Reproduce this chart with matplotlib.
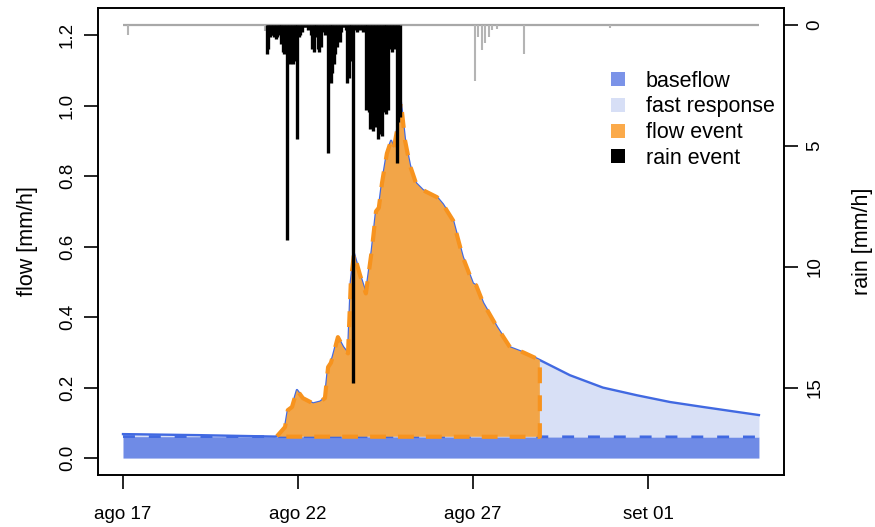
import numpy as np
import matplotlib
matplotlib.use("Agg")
import matplotlib.pyplot as plt
from matplotlib.lines import Line2D

plt.rcParams['font.family'] = ['Liberation Sans', 'DejaVu Sans']
plt.rcParams['font.size'] = 13.5

# time axis in days since ago 17 00:00
flow_days = [0.0, 2.2, 4.34, 4.40, 4.63, 4.71, 4.83, 4.97, 5.14, 5.43, 5.63, 5.77,
             5.86, 5.94, 6.00, 6.14, 6.29, 6.43, 6.51, 6.60, 6.77, 6.94, 7.11, 7.23,
             7.31, 7.40, 7.54, 7.66, 7.74, 7.83, 7.94, 8.06, 8.20, 8.37, 8.57, 8.97,
             9.14, 9.43, 9.71, 10.00, 10.09, 10.29, 10.69, 11.06, 11.43, 11.91, 12.77,
             13.71, 14.69, 15.63, 16.57, 17.54, 18.17]
flow_mm = [0.068, 0.065, 0.061, 0.062, 0.088, 0.136, 0.145, 0.193, 0.170, 0.155, 0.160, 0.170,
           0.258, 0.270, 0.290, 0.343, 0.315, 0.297, 0.500, 0.580, 0.520, 0.467, 0.590, 0.700,
           0.710, 0.780, 0.864, 0.900, 0.880, 0.930, 1.010, 0.900, 0.830, 0.780, 0.760, 0.740,
           0.720, 0.674, 0.570, 0.495, 0.490, 0.440, 0.371, 0.314, 0.300, 0.278, 0.235,
           0.200, 0.178, 0.159, 0.145, 0.131, 0.122]

base_days = [0.0, 18.17]
base_mm = [0.061, 0.060]

event_start = 4.40
event_end = 11.91

# hourly rain of the event, starting at rain_event_start (days)
rain_event_start = 4.11
rain_event_mm = [1.2, 1.0, 0.5, 0.4, 0.4, 0.5, 0.6, 0.5, 0.4, 0.3, 0.8,
                 1.1, 1.2, 1.0, 8.9, 1.5, 1.6, 1.4, 1.6, 1.5, 1.3, 4.7,
                 0.5, 0.4, 0.3, 0.1, 0.1, 0.1, 0.2, 0.1,
                 0.4, 1.0, 1.1, 0.5, 0.3, 1.0, 1.1, 0.9,
                 0.3, 0.2, 0.4, 0.3, 5.3, 1.8, 2.4, 2.0, 1.6, 1.2,
                 0.9, 0.6, 0.7, 0.3, 0.1, 0.1, 0.2, 2.4, 2.2, 1.5, 0.3, 14.8,
                 0.2, 0.1, 0.3, 0.1, 0.2, 0.1, 0.3, 0.2,
                 3.5, 2.8, 3.6, 4.3, 4.0, 4.4, 3.9, 4.2,
                 4.7, 4.5, 4.2, 4.6, 3.6, 3.4, 3.7, 3.5,
                 1.0, 0.8, 1.1, 0.9, 1.0, 5.7, 4.0, 3.8]

# rain outside the event
rain_other_days = [0.15, 4.06, 10.06, 10.14, 10.25, 10.34, 10.46, 10.54, 10.69, 11.46, 13.91]
rain_other_mm = [0.4, 0.25, 2.3, 0.5, 1.05, 0.75, 0.5, 0.2, 0.15, 1.2, 0.12]

tick_days = [0, 5, 10, 15]
tick_labels = ['ago 17', 'ago 22', 'ago 27', 'set 01']

flow = np.array(flow_mm)
days = np.array(flow_days)
base = np.interp(days, base_days, base_mm)

fig = plt.figure(figsize=(8.75, 5.27), dpi=100)
ax = fig.add_axes([98/875, 52/527, 686/875, 467.5/527])

ax.fill_between(days, 0, base, color='#6F8BE6', lw=0)
ax.fill_between(days, base, flow, color='#D8E0F6', lw=0)
ax.plot(days, flow, color='#4169E1', lw=1.7)
ax.plot(base_days, base_mm, color='#4169E1', lw=2.0, dashes=(4.3, 5))

# event polygon
inside = (days > event_start) & (days < event_end)
f0 = np.interp(event_start, days, flow)
f1 = np.interp(event_end, days, flow)
b0 = np.interp(event_start, base_days, base_mm)
b1 = np.interp(event_end, base_days, base_mm)
px = np.concatenate([[event_start], days[inside], [event_end, event_end, event_start]])
py = np.concatenate([[f0], flow[inside], [f1, b1, b0]])
ax.fill(px, py, facecolor='#F2A548', edgecolor='none', zorder=3)
ax.plot(np.append(px, px[0]), np.append(py, py[0]), color='#F7931E', lw=3,
        dashes=(3.8, 2.9), zorder=4)

ax.set_xlim(-0.714, 18.886)
ax.set_ylim(-0.048, 1.278)
ax.set_xticks(tick_days)
ax.set_xticklabels(tick_labels)
ax.set_yticks([0.0, 0.2, 0.4, 0.6, 0.8, 1.0, 1.2])
ax.set_yticklabels(['0.0', '0.2', '0.4', '0.6', '0.8', '1.0', '1.2'], rotation=90, va='center')
ax.tick_params(axis='x', length=10, width=1.2, pad=12)
ax.tick_params(axis='y', length=10, width=1.2, pad=6)
ax.set_ylabel('flow [mm/h]', fontsize=15.5, labelpad=15)

ax2 = ax.twinx()
ax2.hlines(0, 0, flow_days[-1], color='#A8A8A8', lw=1.6)
ax2.vlines(rain_other_days, 0, rain_other_mm, color='#B4B4B4', lw=1.5)
ev_t = rain_event_start + np.arange(len(rain_event_mm)) / 24
ax2.vlines(ev_t, 0, rain_event_mm, color='black', lw=2.4)
ax2.set_ylim(18.6, -0.72)
ax2.set_yticks([0, 5, 10, 15])
ax2.set_yticklabels(['0', '5', '10', '15'], rotation=90, va='center')
ax2.tick_params(axis='y', length=10, width=1.2, pad=6)
ax2.set_ylabel('rain [mm/h]', rotation=90, fontsize=15.5, labelpad=21)

for a in (ax, ax2):
    for s in a.spines.values():
        s.set_linewidth(1.2)

handles = [Line2D([], [], marker='s', ls='none', markersize=10, color=c, markeredgewidth=0)
           for c in ['#7B93E8', '#D7DFF6', '#FBAA4A', 'black']]
ax2.legend(handles, ['baseflow', 'fast response', 'flow event', 'rain event'],
           loc='upper left', bbox_to_anchor=(0.728, 0.888), frameon=False, fontsize=15.5,
           borderpad=0, handlelength=0.9, handletextpad=0.85, labelspacing=0.22)

fig.savefig('out.png', dpi=100)
